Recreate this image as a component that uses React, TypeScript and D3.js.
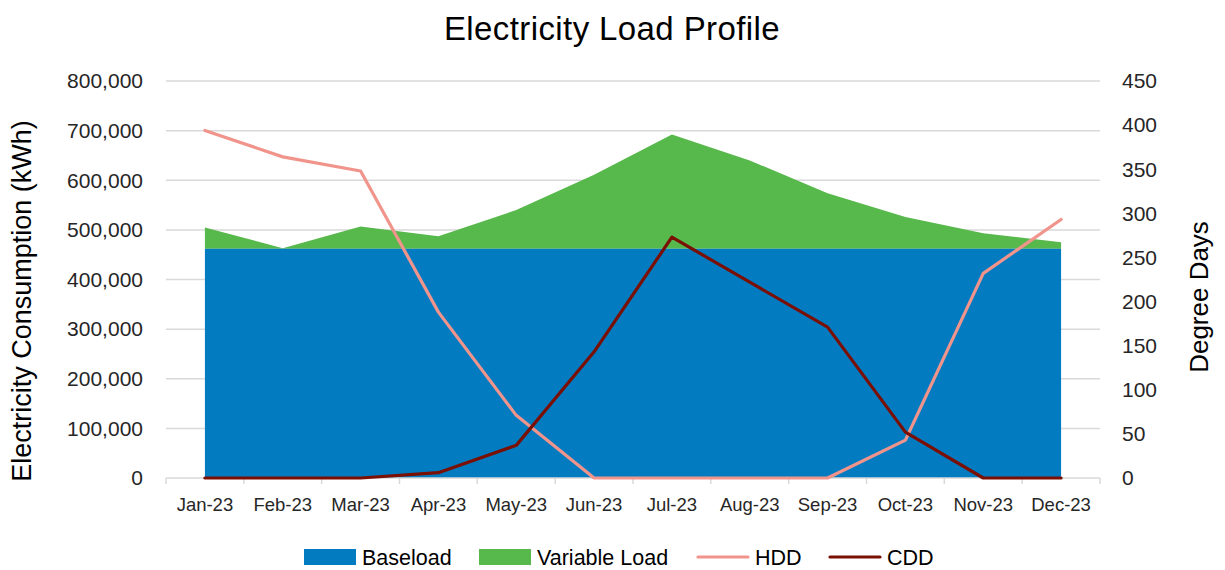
import * as d3 from "d3";
import { useEffect, useRef } from "react";

const months = ["Jan-23", "Feb-23", "Mar-23", "Apr-23", "May-23", "Jun-23", "Jul-23", "Aug-23", "Sep-23", "Oct-23", "Nov-23", "Dec-23"];
const baseload = [462000, 462000, 462000, 462000, 462000, 462000, 462000, 462000, 462000, 462000, 462000, 462000];
const variableLoad = [43000, 1000, 45000, 25000, 78000, 149000, 230000, 178000, 112000, 64000, 31000, 13000];
const hdd = [394, 364, 348, 188, 71, 0, 0, 0, 0, 43, 232, 293];
const cdd = [0, 0, 0, 6, 37, 143, 273, 222, 171, 52, 0, 0];
const leftTicks = [0, 100000, 200000, 300000, 400000, 500000, 600000, 700000, 800000];
const rightTicks = [0, 50, 100, 150, 200, 250, 300, 350, 400, 450];

const FONT = "'Liberation Sans', Arial, sans-serif";
const BLUE = "#037bc1";
const GREEN = "#57b84b";
const HDD_COLOR = "#f1948b";
const CDD_COLOR = "#7a0f04";
const GRID = "#d9d9d9";

export default function App() {
  const ref = useRef<SVGSVGElement>(null);

  useEffect(() => {
    document.body.style.margin = "0";
    const svg = d3.select(ref.current);
    svg.selectAll("*").remove();

    const left = 166, right = 1100, top = 81, bottom = 478;

    const x = d3.scaleBand<string>().domain(months).range([left, right]);
    const cx = (i: number) => (x(months[i]) as number) + x.bandwidth() / 2;
    const y = d3.scaleLinear().domain([0, 800000]).range([bottom, top]);
    const y2 = d3.scaleLinear().domain([0, 450]).range([bottom, top]);

    // gridlines
    svg.append("g")
      .selectAll("line")
      .data(leftTicks.filter((d) => d > 0))
      .enter()
      .append("line")
      .attr("x1", left)
      .attr("x2", right)
      .attr("y1", (d) => y(d))
      .attr("y2", (d) => y(d))
      .attr("stroke", GRID)
      .attr("stroke-width", 1.5);

    // stacked areas
    const idx = d3.range(months.length);
    const baseArea = d3.area<number>()
      .x((i) => cx(i))
      .y0(() => y(0))
      .y1((i) => y(baseload[i]));
    const varArea = d3.area<number>()
      .x((i) => cx(i))
      .y0((i) => y(baseload[i]))
      .y1((i) => y(baseload[i] + variableLoad[i]));

    svg.append("path").attr("d", varArea(idx)).attr("fill", GREEN);
    svg.append("path").attr("d", baseArea(idx)).attr("fill", BLUE);

    // x axis line and ticks
    svg.append("line")
      .attr("x1", left).attr("x2", right)
      .attr("y1", bottom).attr("y2", bottom)
      .attr("stroke", GRID).attr("stroke-width", 1.5);
    const bounds = months.map((m) => x(m) as number).concat([right]);
    svg.append("g")
      .selectAll("line")
      .data(bounds)
      .enter()
      .append("line")
      .attr("x1", (d) => d).attr("x2", (d) => d)
      .attr("y1", bottom).attr("y2", bottom + 6)
      .attr("stroke", GRID).attr("stroke-width", 1.5);

    // degree day lines
    const line = (vals: number[]) =>
      d3.line<number>().x((i) => cx(i)).y((i) => y2(vals[i]))(idx);
    svg.append("path").attr("d", line(hdd)).attr("fill", "none")
      .attr("stroke", HDD_COLOR).attr("stroke-width", 3.2).attr("stroke-linecap", "round").attr("stroke-linejoin", "round");
    svg.append("path").attr("d", line(cdd)).attr("fill", "none")
      .attr("stroke", CDD_COLOR).attr("stroke-width", 3.2).attr("stroke-linecap", "round").attr("stroke-linejoin", "round");

    const fmt = d3.format(",");

    // left tick labels
    svg.append("g")
      .selectAll("text")
      .data(leftTicks)
      .enter()
      .append("text")
      .attr("x", 143)
      .attr("y", (d) => y(d))
      .attr("dy", "0.35em")
      .attr("text-anchor", "end")
      .attr("font-family", FONT)
      .attr("font-size", 21)
      .attr("fill", "#262626")
      .text((d) => fmt(d));

    // right tick labels
    svg.append("g")
      .selectAll("text")
      .data(rightTicks)
      .enter()
      .append("text")
      .attr("x", 1122)
      .attr("y", (d) => y2(d))
      .attr("dy", "0.35em")
      .attr("text-anchor", "start")
      .attr("font-family", FONT)
      .attr("font-size", 21)
      .attr("fill", "#262626")
      .text((d) => d);

    // x labels
    svg.append("g")
      .selectAll("text")
      .data(months)
      .enter()
      .append("text")
      .attr("x", (d, i) => cx(i))
      .attr("y", 505)
      .attr("dy", "0.35em")
      .attr("text-anchor", "middle")
      .attr("font-family", FONT)
      .attr("font-size", 18.5)
      .attr("fill", "#262626")
      .text((d) => d);

    // title
    svg.append("text")
      .attr("x", 612).attr("y", 40)
      .attr("text-anchor", "middle")
      .attr("font-family", FONT)
      .attr("font-size", 33)
      .attr("letter-spacing", 0.4)
      .attr("fill", "#000")
      .text("Electricity Load Profile");

    // axis titles
    svg.append("text")
      .attr("transform", "translate(22,301) rotate(-90)")
      .attr("dy", "0.35em")
      .attr("text-anchor", "middle")
      .attr("font-family", FONT)
      .attr("font-size", 27)
      .attr("fill", "#000")
      .text("Electricity Consumption (kWh)");
    svg.append("text")
      .attr("transform", "translate(1199,297) rotate(-90)")
      .attr("dy", "0.35em")
      .attr("text-anchor", "middle")
      .attr("font-family", FONT)
      .attr("font-size", 26)
      .attr("fill", "#000")
      .text("Degree Days");

    // legend
    const legend = [
      { label: "Baseload", color: BLUE, kind: "rect", x: 304 },
      { label: "Variable Load", color: GREEN, kind: "rect", x: 479 },
      { label: "HDD", color: HDD_COLOR, kind: "line", x: 697 },
      { label: "CDD", color: CDD_COLOR, kind: "line", x: 829 },
    ];
    const lg = svg.append("g");
    legend.forEach((d) => {
      if (d.kind === "rect") {
        lg.append("rect").attr("x", d.x).attr("y", 549).attr("width", 52).attr("height", 16).attr("fill", d.color);
      } else {
        lg.append("line").attr("x1", d.x + 1).attr("x2", d.x + 51).attr("y1", 557).attr("y2", 557)
          .attr("stroke", d.color).attr("stroke-width", 3.2).attr("stroke-linecap", "round");
      }
      lg.append("text")
        .attr("x", d.x + 58).attr("y", 557).attr("dy", "0.35em")
        .attr("font-family", FONT).attr("font-size", 21.5).attr("fill", "#000")
        .text(d.label);
    });
  }, []);

  return <svg ref={ref} width={1225} height={570} style={{ display: "block", background: "#fff" }}></svg>;
}
